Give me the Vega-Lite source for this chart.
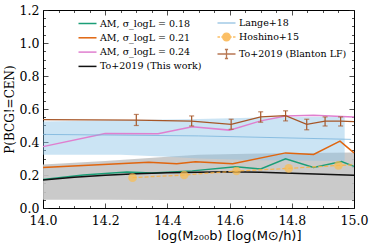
{
  "$schema": "https://vega.github.io/schema/vega-lite/v6.json",
  "width": 311,
  "height": 198,
  "autosize": {"type": "none"},
  "padding": {"left": 43, "top": 10, "right": 20, "bottom": 36},
  "background": "white",
  "config": {
    "view": {"stroke": null},
    "axis": {
      "domainColor": "#000000",
      "domainWidth": 1,
      "tickColor": "#222222",
      "tickWidth": 0.8,
      "grid": false,
      "labelFont": "DejaVu Serif",
      "labelFontSize": 12.5,
      "labelColor": "#000000",
      "titleColor": "#000000",
      "titleFontWeight": "normal"
    },
    "legend": {
      "labelFont": "DejaVu Serif",
      "labelFontSize": 9.5,
      "labelColor": "#000000",
      "padding": 0
    }
  },
  "datasets": {
    "am": [
      {"x": 14.0, "p": 0.172, "series": "AM, σ_logL = 0.18"},
      {"x": 14.13, "p": 0.2, "series": "AM, σ_logL = 0.18"},
      {"x": 14.27, "p": 0.218, "series": "AM, σ_logL = 0.18"},
      {"x": 14.35, "p": 0.212, "series": "AM, σ_logL = 0.18"},
      {"x": 14.48, "p": 0.225, "series": "AM, σ_logL = 0.18"},
      {"x": 14.62, "p": 0.25, "series": "AM, σ_logL = 0.18"},
      {"x": 14.7, "p": 0.236, "series": "AM, σ_logL = 0.18"},
      {"x": 14.78, "p": 0.298, "series": "AM, σ_logL = 0.18"},
      {"x": 14.87, "p": 0.246, "series": "AM, σ_logL = 0.18"},
      {"x": 14.96, "p": 0.282, "series": "AM, σ_logL = 0.18"},
      {"x": 15.0, "p": 0.252, "series": "AM, σ_logL = 0.18"},
      {"x": 14.0, "p": 0.245, "series": "AM, σ_logL = 0.21"},
      {"x": 14.34, "p": 0.278, "series": "AM, σ_logL = 0.21"},
      {"x": 14.43, "p": 0.268, "series": "AM, σ_logL = 0.21"},
      {"x": 14.49, "p": 0.28, "series": "AM, σ_logL = 0.21"},
      {"x": 14.61, "p": 0.268, "series": "AM, σ_logL = 0.21"},
      {"x": 14.78, "p": 0.334, "series": "AM, σ_logL = 0.21"},
      {"x": 14.87, "p": 0.325, "series": "AM, σ_logL = 0.21"},
      {"x": 14.955, "p": 0.405, "series": "AM, σ_logL = 0.21"},
      {"x": 15.0, "p": 0.334, "series": "AM, σ_logL = 0.21"},
      {"x": 14.0, "p": 0.372, "series": "AM, σ_logL = 0.24"},
      {"x": 14.2, "p": 0.452, "series": "AM, σ_logL = 0.24"},
      {"x": 14.37, "p": 0.45, "series": "AM, σ_logL = 0.24"},
      {"x": 14.48, "p": 0.493, "series": "AM, σ_logL = 0.24"},
      {"x": 14.6, "p": 0.472, "series": "AM, σ_logL = 0.24"},
      {"x": 14.7, "p": 0.528, "series": "AM, σ_logL = 0.24"},
      {"x": 14.78, "p": 0.558, "series": "AM, σ_logL = 0.24"},
      {"x": 14.87, "p": 0.562, "series": "AM, σ_logL = 0.24"},
      {"x": 14.96, "p": 0.555, "series": "AM, σ_logL = 0.24"},
      {"x": 15.0, "p": 0.552, "series": "AM, σ_logL = 0.24"},
      {"x": 14.0, "p": 0.17, "series": "To+2019 (This work)"},
      {"x": 14.1, "p": 0.186, "series": "To+2019 (This work)"},
      {"x": 14.2, "p": 0.198, "series": "To+2019 (This work)"},
      {"x": 14.3, "p": 0.207, "series": "To+2019 (This work)"},
      {"x": 14.4, "p": 0.213, "series": "To+2019 (This work)"},
      {"x": 14.5, "p": 0.217, "series": "To+2019 (This work)"},
      {"x": 14.6, "p": 0.219, "series": "To+2019 (This work)"},
      {"x": 14.7, "p": 0.216, "series": "To+2019 (This work)"},
      {"x": 14.8, "p": 0.21, "series": "To+2019 (This work)"},
      {"x": 14.9, "p": 0.204, "series": "To+2019 (This work)"},
      {"x": 15.0, "p": 0.198, "series": "To+2019 (This work)"}
    ],
    "band_to": [
      {"x": 14.0, "lo": 0.05, "hi": 0.263},
      {"x": 14.2, "lo": 0.05, "hi": 0.285},
      {"x": 14.4, "lo": 0.049, "hi": 0.31},
      {"x": 14.5, "lo": 0.049, "hi": 0.322},
      {"x": 14.7, "lo": 0.048, "hi": 0.33},
      {"x": 15.0, "lo": 0.047, "hi": 0.336}
    ],
    "band_lange": [
      {"x": 14.0, "lo": 0.323, "hi": 0.525},
      {"x": 14.25, "lo": 0.322, "hi": 0.532},
      {"x": 14.4, "lo": 0.31, "hi": 0.537},
      {"x": 14.5, "lo": 0.3, "hi": 0.54},
      {"x": 14.7, "lo": 0.29, "hi": 0.548},
      {"x": 14.97, "lo": 0.285, "hi": 0.555}
    ],
    "lange": [
      {"x": 14.0, "p": 0.446, "src": "Lange+18"},
      {"x": 14.5, "p": 0.437, "src": "Lange+18"},
      {"x": 14.99, "p": 0.416, "src": "Lange+18"}
    ],
    "hoshino": [
      {"x": 14.288, "p": 0.184, "src": "Hoshino+15"},
      {"x": 14.454, "p": 0.2, "src": "Hoshino+15"},
      {"x": 14.622, "p": 0.224, "src": "Hoshino+15"},
      {"x": 14.79, "p": 0.24, "src": "Hoshino+15"},
      {"x": 14.95, "p": 0.258, "src": "Hoshino+15"},
      {"x": 15.0, "p": 0.262, "src": "Hoshino+15"}
    ],
    "blanton": [
      {"x": 14.0, "p": 0.536, "lo": null, "hi": null, "src": "To+2019 (Blanton LF)"},
      {"x": 14.3, "p": 0.532, "lo": 0.5, "hi": 0.567, "src": "To+2019 (Blanton LF)"},
      {"x": 14.478, "p": 0.526, "lo": 0.497, "hi": 0.558, "src": "To+2019 (Blanton LF)"},
      {"x": 14.605, "p": 0.507, "lo": 0.477, "hi": 0.538, "src": "To+2019 (Blanton LF)"},
      {"x": 14.7, "p": 0.552, "lo": 0.52, "hi": 0.583, "src": "To+2019 (Blanton LF)"},
      {"x": 14.78, "p": 0.56, "lo": 0.528, "hi": 0.589, "src": "To+2019 (Blanton LF)"},
      {"x": 14.848, "p": 0.507, "lo": 0.474, "hi": 0.538, "src": "To+2019 (Blanton LF)"},
      {"x": 14.907, "p": 0.526, "lo": 0.497, "hi": 0.552, "src": "To+2019 (Blanton LF)"},
      {"x": 14.957, "p": 0.526, "lo": 0.497, "hi": 0.552, "src": "To+2019 (Blanton LF)"},
      {"x": 15.0, "p": 0.524, "lo": null, "hi": null, "src": "To+2019 (Blanton LF)"}
    ]
  },
  "layer": [
    {
      "data": {"name": "band_to"},
      "mark": {"type": "area", "fill": "#c4c4c4", "opacity": 0.9},
      "encoding": {
        "x": {
          "field": "x", "type": "quantitative",
          "scale": {"domain": [14.0, 15.0], "nice": false, "zero": false},
          "axis": {
            "orient": "bottom",
            "values": [14.0,14.05,14.1,14.15,14.2,14.25,14.3,14.35,14.4,14.45,14.5,14.55,14.6,14.65,14.7,14.75,14.8,14.85,14.9,14.95,15.0],
            "labelExpr": "abs(datum.value*5 - round(datum.value*5)) < 0.001 ? format(datum.value, '.1f') : ''",
            "tickSize": {"condition": {"test": "abs(datum.value*5 - round(datum.value*5)) < 0.001", "value": -5}, "value": -2.5},
            "labelPadding": 11,
            "labelFlush": false,
            "labelOverlap": false,
            "title": "log(M₂₀₀b) [log(M⊙/h)]",
            "titleFont": "DejaVu Sans",
            "titleFontSize": 13,
            "titleX": 186,
            "titleAlign": "center",
            "titlePadding": 0
          }
        },
        "y": {
          "field": "lo", "type": "quantitative",
          "scale": {"domain": [0, 1.2], "nice": false},
          "axis": {
            "orient": "left",
            "values": [0,0.05,0.1,0.15,0.2,0.25,0.3,0.35,0.4,0.45,0.5,0.55,0.6,0.65,0.7,0.75,0.8,0.85,0.9,0.95,1.0,1.05,1.1,1.15,1.2],
            "labelExpr": "abs(datum.value*5 - round(datum.value*5)) < 0.001 ? format(datum.value, '.1f') : ''",
            "tickSize": {"condition": {"test": "abs(datum.value*5 - round(datum.value*5)) < 0.001", "value": -5}, "value": -2.5},
            "labelPadding": 9,
            "labelFlush": false,
            "labelOverlap": false,
            "title": "P(BCG!=CEN)",
            "titleFont": "DejaVu Serif",
            "titleFontSize": 12,
            "titlePadding": 3
          }
        },
        "y2": {"field": "hi"}
      }
    },
    {
      "data": {"name": "band_lange"},
      "mark": {"type": "area", "fill": "#8cc4e6", "opacity": 0.45},
      "encoding": {
        "x": {"field": "x", "type": "quantitative", "axis": null},
        "y": {"field": "lo", "type": "quantitative", "axis": null},
        "y2": {"field": "hi"}
      }
    },
    {
      "data": {"name": "am"},
      "mark": {"type": "line", "strokeWidth": 1.5},
      "encoding": {
        "x": {"field": "x", "type": "quantitative", "axis": null},
        "y": {"field": "p", "type": "quantitative", "axis": null},
        "stroke": {
          "field": "series", "type": "nominal",
          "scale": {
            "domain": ["AM, σ_logL = 0.18", "AM, σ_logL = 0.21", "AM, σ_logL = 0.24", "To+2019 (This work)"],
            "range": ["#1b9e77", "#e0650e", "#e07fcf", "#111111"]
          },
          "legend": {
            "orient": "none", "legendX": 39, "legendY": 8,
            "title": null, "symbolType": "M-2,0H2", "symbolSize": 81,
            "symbolStrokeWidth": 1.5, "labelOffset": 7, "rowPadding": 4.3
          }
        }
      }
    },
    {
      "data": {"name": "lange"},
      "mark": {"type": "line", "strokeWidth": 1, "opacity": 0.8},
      "encoding": {
        "x": {
          "field": "x", "type": "quantitative",
          "axis": {
            "orient": "top",
            "values": [14.0,14.05,14.1,14.15,14.2,14.25,14.3,14.35,14.4,14.45,14.5,14.55,14.6,14.65,14.7,14.75,14.8,14.85,14.9,14.95,15.0],
            "labels": false,
            "tickSize": {"condition": {"test": "abs(datum.value*5 - round(datum.value*5)) < 0.001", "value": -5}, "value": -2.5},
            "title": null
          }
        },
        "y": {
          "field": "p", "type": "quantitative",
          "axis": {
            "orient": "right",
            "values": [0,0.05,0.1,0.15,0.2,0.25,0.3,0.35,0.4,0.45,0.5,0.55,0.6,0.65,0.7,0.75,0.8,0.85,0.9,0.95,1.0,1.05,1.1,1.15,1.2],
            "labels": false,
            "tickSize": {"condition": {"test": "abs(datum.value*5 - round(datum.value*5)) < 0.001", "value": -5}, "value": -2.5},
            "title": null
          }
        },
        "color": {
          "field": "src", "type": "nominal",
          "scale": {
            "domain": ["Lange+18", "Hoshino+15", "To+2019 (Blanton LF)"],
            "range": ["#79b4dc", "#fbb040", "#a65628"]
          },
          "legend": {
            "orient": "none", "legendX": 178, "legendY": 7.5,
            "title": null,
            "symbolType": {"expr": "datum.value === 'Hoshino+15' ? 'M-2,0H-1.45M-1.15,0H-0.6M0.6,0H1.15M1.45,0H2M0.85,0A0.85,0.85 0 1 1 -0.85,0A0.85,0.85 0 1 1 0.85,0M0.55,0A0.55,0.55 0 1 1 -0.55,0A0.55,0.55 0 1 1 0.55,0M0.25,0A0.25,0.25 0 1 1 -0.25,0A0.25,0.25 0 1 1 0.25,0' : (datum.value === 'To+2019 (Blanton LF)' ? 'M-2,0H2M0,-1V1M-0.35,-1H0.35M-0.35,1H0.35' : 'M-2,0H2')"},
            "symbolSize": 81,
            "symbolStrokeWidth": 1.3, "labelOffset": 7, "rowPadding": 3
          }
        }
      }
    },
    {
      "data": {"name": "hoshino"},
      "mark": {"type": "line", "strokeWidth": 1.3, "strokeDash": [4, 2], "opacity": 0.85},
      "encoding": {
        "x": {"field": "x", "type": "quantitative", "axis": null},
        "y": {"field": "p", "type": "quantitative", "axis": null},
        "color": {"field": "src", "type": "nominal"}
      }
    },
    {
      "data": {"name": "hoshino"},
      "transform": [{"filter": "datum.x < 14.99"}],
      "mark": {"type": "point", "filled": true, "size": 75, "opacity": 0.7, "fill": "#fbbd4f"},
      "encoding": {
        "x": {"field": "x", "type": "quantitative", "axis": null},
        "y": {"field": "p", "type": "quantitative", "axis": null}
      }
    },
    {
      "data": {"name": "blanton"},
      "mark": {"type": "line", "strokeWidth": 1.3},
      "encoding": {
        "x": {"field": "x", "type": "quantitative", "axis": null},
        "y": {"field": "p", "type": "quantitative", "axis": null},
        "color": {"field": "src", "type": "nominal"}
      }
    },
    {
      "data": {"name": "blanton"},
      "mark": {"type": "rule", "strokeWidth": 1.2},
      "encoding": {
        "x": {"field": "x", "type": "quantitative", "axis": null},
        "y": {"field": "lo", "type": "quantitative", "axis": null},
        "y2": {"field": "hi"},
        "color": {"field": "src", "type": "nominal"}
      }
    },
    {
      "data": {"name": "blanton"},
      "mark": {"type": "tick", "orient": "horizontal", "size": 5, "thickness": 1.2},
      "encoding": {
        "x": {"field": "x", "type": "quantitative", "axis": null},
        "y": {"field": "lo", "type": "quantitative", "axis": null},
        "color": {"field": "src", "type": "nominal"}
      }
    },
    {
      "data": {"name": "blanton"},
      "mark": {"type": "tick", "orient": "horizontal", "size": 5, "thickness": 1.2},
      "encoding": {
        "x": {"field": "x", "type": "quantitative", "axis": null},
        "y": {"field": "hi", "type": "quantitative", "axis": null},
        "color": {"field": "src", "type": "nominal"}
      }
    }
  ]
}
